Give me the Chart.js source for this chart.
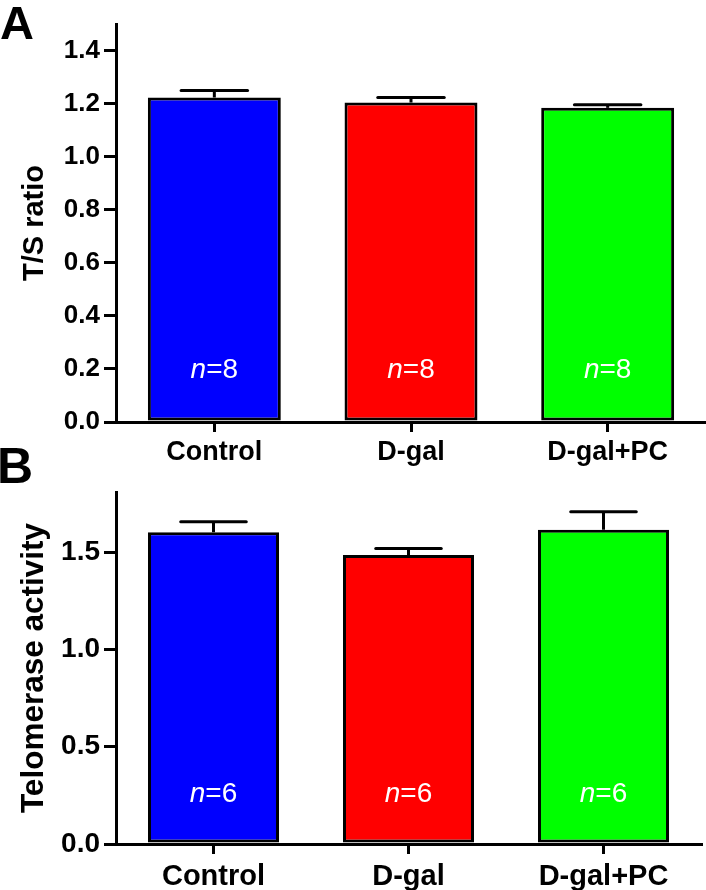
<!DOCTYPE html>
<html><head><meta charset="utf-8">
<script src="https://cdn.jsdelivr.net/npm/chart.js@4/dist/chart.umd.min.js"></script>
<style>
html,body{margin:0;padding:0;background:#fff;width:706px;height:890px;overflow:hidden;}
canvas{position:absolute;left:0;}
#ca{top:0;}
#cb{top:450px;}
.lbl{position:absolute;font-family:'Liberation Sans',Arial,sans-serif;font-weight:bold;color:#000;line-height:1;}
</style></head><body>
<canvas id="ca" width="706" height="480"></canvas>
<canvas id="cb" width="706" height="440"></canvas>
<div class="lbl" style="left:0px;top:-1px;font-size:47px">A</div>
<div class="lbl" style="left:-3px;top:441px;font-size:50px">B</div>
<script>
const FONT = "'Liberation Sans', Arial, sans-serif";
const categories = ['Control', 'D-gal', 'D-gal+PC'];
const barColors = ['#0000ff', '#ff0000', '#00ff00'];

// Panel A: T/S ratio
const tsRatio = [1.223, 1.204, 1.184];
const tsRatioErr = [0.026, 0.019, 0.012];
const tsN = [8, 8, 8];
const tsTicks = [0, 0.2, 0.4, 0.6, 0.8, 1.0, 1.2, 1.4];
const tsMax = 1.5;

// Panel B: Telomerase activity
const teloActivity = [1.603, 1.486, 1.616];
const teloErr = [0.054, 0.033, 0.093];
const teloN = [6, 6, 6];
const teloTicks = [0, 0.5, 1.0, 1.5];
const teloMax = 1.81;

const errNPlugin = {
  id: 'errN',
  afterDatasetsDraw(chart, args, opts) {
    const ctx = chart.ctx;
    const meta = chart.getDatasetMeta(0);
    const y = chart.scales.y;
    ctx.save();
    meta.data.forEach((bar, i) => {
      const v = opts.values[i], e = opts.errs[i];
      const top = y.getPixelForValue(v);
      const cap = y.getPixelForValue(v + e);
      const half = bar.width / 4;
      ctx.strokeStyle = '#000';
      ctx.lineWidth = 3;
      ctx.lineCap = 'butt';
      ctx.beginPath();
      ctx.moveTo(bar.x, top);
      ctx.lineTo(bar.x, cap);
      ctx.stroke();
      ctx.lineCap = 'round';
      ctx.beginPath();
      ctx.moveTo(bar.x - half, cap);
      ctx.lineTo(bar.x + half, cap);
      ctx.stroke();
      // n label
      const ty = chart.chartArea.bottom - opts.nOffset;
      const fs = opts.nSize;
      ctx.fillStyle = '#fff';
      ctx.textBaseline = 'middle';
      ctx.textAlign = 'left';
      ctx.font = 'italic ' + fs + 'px ' + FONT;
      const w1 = ctx.measureText('n').width;
      ctx.font = fs + 'px ' + FONT;
      const rest = '=' + opts.ns[i];
      const w2 = ctx.measureText(rest).width;
      const x0 = bar.x - (w1 + w2) / 2;
      ctx.font = 'italic ' + fs + 'px ' + FONT;
      ctx.fillText('n', x0, ty);
      ctx.font = fs + 'px ' + FONT;
      ctx.fillText(rest, x0 + w1, ty);
    });
    ctx.restore();
  }
};

function makeChart(id, values, errs, ns, ticks, yMax, yTitle, cfg) {
  return new Chart(document.getElementById(id), {
    type: 'bar',
    data: {
      labels: categories,
      datasets: [{
        data: values,
        backgroundColor: barColors,
        borderColor: '#000',
        borderWidth: 3,
        borderSkipped: false,
        categoryPercentage: 1,
        barPercentage: cfg.barPct
      }]
    },
    plugins: [errNPlugin],
    options: {
      responsive: false,
      animation: false,
      layout: { padding: { top: cfg.top, right: cfg.right, left: 0, bottom: 0 } },
      plugins: {
        legend: { display: false },
        tooltip: { enabled: false },
        errN: { values: values, errs: errs, ns: ns, nOffset: cfg.nOffset, nSize: cfg.nSize }
      },
      scales: {
        x: {
          offset: true,
          grid: { display: true, offset: false, drawOnChartArea: false, drawTicks: true, tickLength: 10, color: '#000', lineWidth: 3 },
          border: { display: true, color: '#000', width: 3 },
          ticks: { color: '#000', font: { family: FONT, size: cfg.xSize, weight: 'bold' }, padding: cfg.xPad, maxRotation: 0, autoSkip: false },
          afterFit(s) { s.height = cfg.xh; }
        },
        y: {
          min: 0,
          max: yMax,
          afterBuildTicks(s) { s.ticks = ticks.map(v => ({ value: v })); },
          grid: { drawOnChartArea: false, drawTicks: true, tickLength: 12, color: '#000', lineWidth: 3 },
          border: { display: true, color: '#000', width: 3 },
          ticks: { color: '#000', font: { family: FONT, size: cfg.tSize, weight: 'bold' }, padding: 4, callback: v => Number(v).toFixed(1) },
          title: { display: true, text: yTitle, color: '#000', font: { family: FONT, size: cfg.titleSize, weight: 'bold' }, padding: { top: cfg.titlePad, bottom: 0 } },
          afterFit(s) { s.width = 116; }
        }
      }
    }
  });
}

makeChart('ca', tsRatio, tsRatioErr, tsN, tsTicks, tsMax, 'T/S ratio',
  { top: 24, right: 0, xh: 58, barPct: 0.676, nOffset: 52, nSize: 28, xSize: 27, xPad: 4, tSize: 26, titleSize: 29, titlePad: 18 });
makeChart('cb', teloActivity, teloErr, teloN, teloTicks, teloMax, 'Telomerase activity',
  { top: 42, right: 5, xh: 46, barPct: 0.672, nOffset: 50, nSize: 28, xSize: 29, xPad: 6, tSize: 28, titleSize: 31.5, titlePad: 15 });
</script>
</body></html>
